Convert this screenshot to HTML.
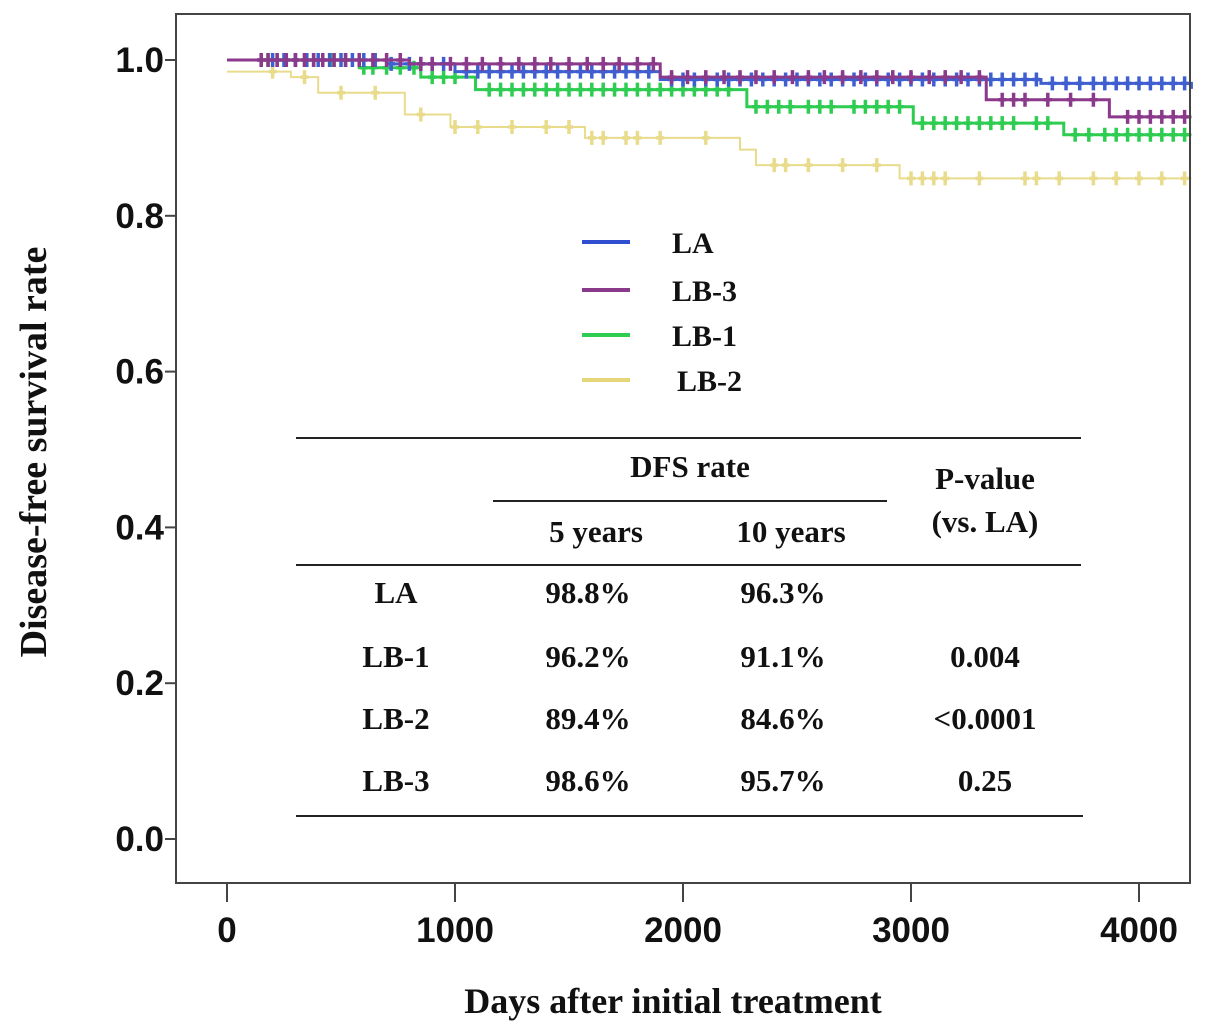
<!DOCTYPE html>
<html><head><meta charset="utf-8"><style>
html,body{margin:0;padding:0;background:#fff;}
svg{display:block;}
.t{font-family:"Liberation Serif",serif;font-weight:bold;fill:#111;}
.s{font-family:"Liberation Sans",sans-serif;font-weight:bold;fill:#111;}
</style></head><body>
<svg id="chart" width="1205" height="1035" viewBox="0 0 1205 1035">
<g id="marks"></g>
<g id="axes"></g>
<g>
 <line x1="582" y1="242" x2="630" y2="242" stroke="#2f4fd0" stroke-width="4"/>
 <text class="t" x="672" y="253" font-size="30">LA</text>
 <line x1="582" y1="290" x2="630" y2="290" stroke="#8b3a8b" stroke-width="4"/>
 <text class="t" x="672" y="301" font-size="30">LB-3</text>
 <line x1="582" y1="335" x2="630" y2="335" stroke="#2ecc50" stroke-width="4"/>
 <text class="t" x="672" y="346" font-size="30">LB-1</text>
 <line x1="582" y1="380" x2="630" y2="380" stroke="#e6d67a" stroke-width="4"/>
 <text class="t" x="677" y="391" font-size="30">LB-2</text>
</g>
<g text-anchor="middle" font-size="31">
 <line x1="296" y1="438" x2="1081" y2="438" stroke="#222" stroke-width="2"/>
 <line x1="493" y1="501" x2="887" y2="501" stroke="#222" stroke-width="2"/>
 <line x1="296" y1="565" x2="1081" y2="565" stroke="#222" stroke-width="2"/>
 <line x1="296" y1="816" x2="1083" y2="816" stroke="#222" stroke-width="2"/>
 <text class="t" x="690" y="477">DFS rate</text>
 <text class="t" x="985" y="489">P-value</text>
 <text class="t" x="985" y="532">(vs. LA)</text>
 <text class="t" x="596" y="542">5 years</text>
 <text class="t" x="791" y="542">10 years</text>
 <text class="t" x="396" y="603">LA</text>
 <text class="t" x="588" y="603">98.8%</text>
 <text class="t" x="783" y="603">96.3%</text>
 <text class="t" x="396" y="667">LB-1</text>
 <text class="t" x="588" y="667">96.2%</text>
 <text class="t" x="783" y="667">91.1%</text>
 <text class="t" x="985" y="667">0.004</text>
 <text class="t" x="396" y="729">LB-2</text>
 <text class="t" x="588" y="729">89.4%</text>
 <text class="t" x="783" y="729">84.6%</text>
 <text class="t" x="985" y="729">&lt;0.0001</text>
 <text class="t" x="396" y="791">LB-3</text>
 <text class="t" x="588" y="791">98.6%</text>
 <text class="t" x="783" y="791">95.7%</text>
 <text class="t" x="985" y="791">0.25</text>
</g>
<text class="t" x="673" y="1013" font-size="36" text-anchor="middle">Days after initial treatment</text>
<text class="t" transform="translate(46,452) rotate(-90)" font-size="38" text-anchor="middle">Disease-free survival rate</text>
</svg>
<script>
const xTicks = [0, 1000, 2000, 3000, 4000];
const yTicks = [0.0, 0.2, 0.4, 0.6, 0.8, 1.0];
const laTimes = [0, 700, 1000, 1900, 3570, 4230];
const laSurv = [1.0, 0.995, 0.985, 0.975, 0.97, 0.963];
const lb3Times = [0, 800, 1900, 3330, 3870, 4230];
const lb3Surv = [1.0, 0.995, 0.978, 0.949, 0.927, 0.927];
const lb1Times = [0, 580, 850, 1090, 2280, 3010, 3670, 4230];
const lb1Surv = [1.0, 0.99, 0.978, 0.962, 0.94, 0.919, 0.904, 0.904];
const lb2Times = [0, 280, 400, 780, 980, 1570, 2250, 2320, 2950, 4230];
const lb2Surv = [0.985, 0.978, 0.958, 0.93, 0.914, 0.9, 0.885, 0.865, 0.848, 0.848];
const laCens = [150,200,250,300,350,400,450,500,550,600,650,720,800,850,900,950,1050,1100,1150,1200,1250,1300,1350,1400,1450,1500,1550,1600,1650,1700,1750,1800,1850,1950,2000,2050,2100,2150,2200,2250,2300,2350,2400,2450,2500,2550,2600,2650,2700,2750,2800,2850,2900,2950,3000,3050,3100,3150,3200,3250,3300,3350,3400,3450,3500,3550,3620,3680,3740,3800,3850,3900,3950,4000,4050,4100,4150,4200];
const lb3Cens = [150,180,220,260,300,340,380,420,470,520,580,640,700,760,850,900,980,1050,1120,1200,1280,1350,1420,1500,1580,1650,1720,1800,1870,1950,2020,2100,2180,2250,2320,2400,2480,2550,2620,2700,2780,2850,2920,3000,3080,3150,3220,3300,3400,3450,3500,3600,3700,3800,3950,4000,4050,4100,4150,4200];
const lb1Cens = [180,220,260,300,340,380,420,460,520,600,640,700,760,820,900,950,1000,1150,1200,1250,1300,1350,1400,1450,1500,1550,1600,1650,1700,1750,1800,1850,1900,1950,2000,2050,2100,2150,2200,2320,2370,2420,2470,2550,2600,2650,2750,2800,2850,2900,2950,3050,3100,3150,3200,3250,3300,3350,3400,3450,3550,3600,3720,3780,3850,3900,3950,4000,4050,4100,4150,4200];
const lb2Cens = [200,340,500,650,850,1000,1100,1250,1400,1500,1600,1650,1750,1800,1900,2100,2400,2450,2550,2700,2850,3000,3050,3100,3150,3300,3500,3550,3650,3800,3900,4000,4100,4200];
const X = d => 227 + d * 0.228;
const Y = s => 839 - s * 779;
const NS = 'http://www.w3.org/2000/svg';
const marks = document.getElementById('marks');
const axes = document.getElementById('axes');
function mk(tag, attrs, parent){const e=document.createElementNS(NS,tag);for(const k in attrs)e.setAttribute(k,attrs[k]);parent.appendChild(e);return e;}
function survAt(times, surv, t){let v=surv[0];for(let i=0;i<times.length;i++){if(times[i]<=t)v=surv[i];}return v;}
function drawSeries(name, times, surv, cens, color, w){
  const g = mk('g', {}, marks);
  
  
  let d = 'M' + X(times[0]) + ',' + Y(surv[0]);
  for (let i = 1; i < times.length; i++) { d += ' H' + X(times[i]) + ' V' + Y(surv[i]); }
  const p = mk('path', {d: d, fill: 'none', stroke: color, 'stroke-width': w}, g);
  
  
  cens.forEach(t => {
    const cx = X(t), cy = Y(survAt(times, surv, t));
    const c = mk('path', {d: 'M' + (cx-4) + ',' + cy + ' H' + (cx+4) + ' M' + cx + ',' + (cy-7) + ' V' + (cy+7), stroke: color, 'stroke-width': 3.5, fill: 'none'}, g);
    
    
  });
}
drawSeries('lb2', lb2Times, lb2Surv, lb2Cens, '#e8dc8c', 2);
drawSeries('lb1', lb1Times, lb1Surv, lb1Cens, '#2ecc50', 3);
drawSeries('la', laTimes, laSurv, laCens, '#3f5fd0', 3);
drawSeries('lb3', lb3Times, lb3Surv, lb3Cens, '#8b3a8b', 3);
const fr = mk('rect', {x: 176, y: 14, width: 1014, height: 869, fill: 'none', stroke: '#444', 'stroke-width': 2}, axes);


xTicks.forEach(v => {
  const l = mk('line', {x1: X(v), x2: X(v), y1: 883, y2: 902, stroke: '#444', 'stroke-width': 2}, axes);
  
  
  const t = mk('text', {x: X(v), y: 942, 'text-anchor': 'middle', 'font-size': 35, class: 's'}, axes);
  t.textContent = v;
  
  
});
yTicks.forEach(v => {
  const l = mk('line', {x1: 165, x2: 176, y1: Y(v), y2: Y(v), stroke: '#444', 'stroke-width': 2}, axes);
  
  
  const t = mk('text', {x: 164, y: Y(v) + 12, 'text-anchor': 'end', 'font-size': 35, class: 's'}, axes);
  t.textContent = v.toFixed(1);
  
  
});
</script>
</body></html>
